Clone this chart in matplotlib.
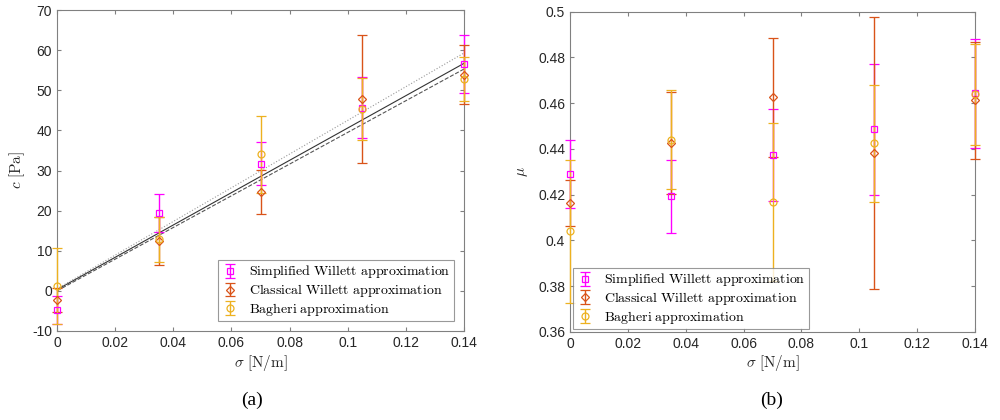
import matplotlib
matplotlib.use("Agg")
import matplotlib.pyplot as plt
from matplotlib.ticker import FuncFormatter

plt.rcParams["font.family"] = ["Liberation Sans", "DejaVu Sans"]
plt.rcParams["mathtext.fontset"] = "cm"

sigma = [0.0, 0.035, 0.07, 0.105, 0.14]
labels = [
    r"$\mathrm{Simplified\ Willett\ approximation}$",
    r"$\mathrm{Classical\ Willett\ approximation}$",
    r"$\mathrm{Bagheri\ approximation}$",
]
colors = ["#FF00FF", "#D95319", "#EDB120"]
markers = ["s", "D", "o"]

# panel (a): cohesion c [Pa]
c_simplified = [-4.8, 19.4, 31.7, 45.7, 56.6]
c_simplified_err = [3.5, 4.7, 5.4, 7.6, 7.2]
c_classical = [-2.2, 12.5, 24.7, 47.9, 53.9]
c_classical_err = [3.0, 6.0, 5.5, 16.0, 7.3]
c_bagheri = [1.3, 12.9, 34.0, 45.4, 52.9]
c_bagheri_err = [9.5, 5.6, 9.7, 7.7, 5.5]

# linear fits c = a + b*sigma (solid, dashed, dotted)
fit_intercept = [0.3, 0.0, 0.5]
fit_slope = [403.0, 395.0, 420.0]
fit_styles = ["-", "--", ":"]
fit_colors = ["#333333", "#555555", "#999999"]

# panel (b): friction coefficient mu
mu_simplified = [0.4291, 0.4192, 0.4373, 0.4485, 0.4643]
mu_simplified_err = [0.0150, 0.0160, 0.0200, 0.0285, 0.0238]
mu_classical = [0.4164, 0.4427, 0.4626, 0.4381, 0.4612]
mu_classical_err = [0.0100, 0.0223, 0.0260, 0.0595, 0.0255]
mu_bagheri = [0.4040, 0.4441, 0.4167, 0.4424, 0.4640]
mu_bagheri_err = [0.0312, 0.0217, 0.0346, 0.0255, 0.0221]


def style_axes(ax):
    ax.tick_params(direction="in", top=True, right=True, colors="#808080",
                   labelcolor="#262626", labelsize=10, length=3)
    for sp in ax.spines.values():
        sp.set_color("#808080")
        sp.set_linewidth(0.8)
    ax.set_xlim(0, 0.14)
    ax.set_xticks([0, 0.02, 0.04, 0.06, 0.08, 0.1, 0.12, 0.14])
    ax.xaxis.set_major_formatter(FuncFormatter(lambda v, p: f"{v:g}"))
    ax.yaxis.set_major_formatter(FuncFormatter(lambda v, p: f"{round(v, 4):g}"))
    ax.set_xlabel(r"$\sigma\ [\mathrm{N/m}]$", fontsize=11, color="#262626", labelpad=2)


def draw_series(ax, ys, errs):
    for y, e, col, mk, lab in zip(ys, errs, colors, markers, labels):
        ax.errorbar(sigma, y, yerr=e, fmt=mk, color=col, mfc="none", mec=col,
                    ms=5 if mk != "D" else 4.5, mew=0.9, elinewidth=1.0,
                    capsize=3.5, capthick=1.0, label=lab, linestyle="none",
                    clip_on=False, zorder=3)


def add_legend(ax, loc, pad):
    leg = ax.legend(loc=loc, fontsize=10, frameon=True, fancybox=False,
                    borderpad=0.25, labelspacing=0.12, handlelength=1.2,
                    handleheight=0.55, handletextpad=0.8, borderaxespad=pad)
    leg.get_frame().set_edgecolor("#808080")
    leg.get_frame().set_linewidth(0.8)
    return leg


fig = plt.figure(figsize=(10, 4.2), dpi=100)
ax1 = fig.add_axes([0.057, 0.212, 0.407, 0.764])
ax2 = fig.add_axes([0.570, 0.210, 0.405, 0.762])

# (a)
for a, b, ls, col in zip(fit_intercept, fit_slope, fit_styles, fit_colors):
    xs = [sigma[0], sigma[-1]]
    ax1.plot(xs, [a + b * x for x in xs], linestyle=ls, color=col, lw=0.8)
draw_series(ax1, [c_simplified, c_classical, c_bagheri],
            [c_simplified_err, c_classical_err, c_bagheri_err])
ax1.set_ylim(-10, 70)
ax1.set_yticks(range(-10, 71, 10))
style_axes(ax1)
ax1.set_ylabel(r"$c\ [\mathrm{Pa}]$", fontsize=11, color="#262626", labelpad=4)
add_legend(ax1, "lower right", 0.7)

# (b)
draw_series(ax2, [mu_simplified, mu_classical, mu_bagheri],
            [mu_simplified_err, mu_classical_err, mu_bagheri_err])
ax2.set_ylim(0.36, 0.5)
ax2.set_yticks([0.36, 0.38, 0.40, 0.42, 0.44, 0.46, 0.48, 0.50])
style_axes(ax2)
ax2.set_ylabel(r"$\mu$", fontsize=11, color="#262626", labelpad=6)
add_legend(ax2, "lower left", 0.2)

fig.text(0.252, 0.035, "(a)", fontsize=14, family="Liberation Serif", ha="center")
fig.text(0.772, 0.035, "(b)", fontsize=14, family="Liberation Serif", ha="center")

fig.savefig("out.png", dpi=100)
